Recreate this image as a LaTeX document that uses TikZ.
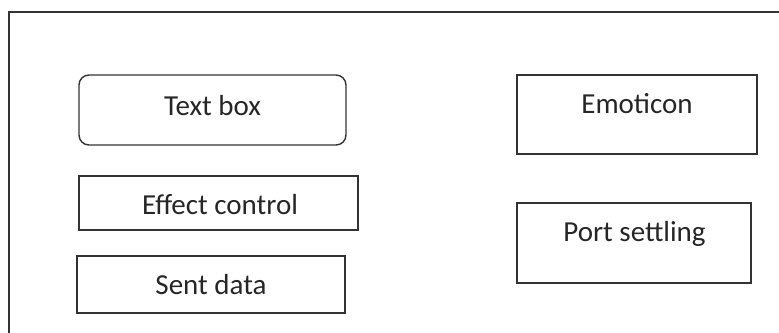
\documentclass[tikz,border=0pt]{standalone}
\usepackage{fontspec}
\setmainfont{Carlito}
\usepackage{tikz}

\begin{document}
\begin{tikzpicture}[x=.02cm,y=-.02cm,line width=.8pt,
    panel/.style={draw=black!80},
    lbl/.style={anchor=base,text=black!85,font=\fontsize{16.5}{20}\selectfont}]
      \useasboundingbox (0,0) rectangle (779,333);
      \draw[black!80] (9,333) -- (9,12) -- (779,12);
      % left column
      \draw[panel,rounded corners=.2cm] (79,75) rectangle (346,145);
      \node[lbl] (textbox) at (212.5,115.7) {Text box};
      \draw[panel] (79,176) rectangle (358,230);
      \node[lbl] (effect) at (220,215) {Effect control};
      \draw[panel] (77,256) rectangle (345,313);
      \node[lbl] (sent) at (211,295) {Sent data};
      % right column
      \draw[panel] (517,75) rectangle (757,154);
      \node[lbl] (emoticon) at (637,113.3) {Emoticon};
      \draw[panel] (517,203) rectangle (751,283);
      \node[lbl] (port) at (634.5,241.7) {Port settling};
\end{tikzpicture}
\end{document}
